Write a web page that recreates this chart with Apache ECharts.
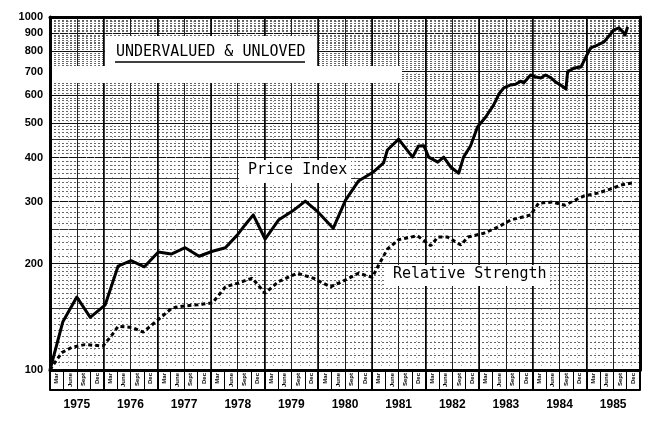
<!DOCTYPE html>
<html><head><meta charset="utf-8">
<script src="https://cdn.jsdelivr.net/npm/echarts@6/dist/echarts.min.js"></script>
<style>html,body{margin:0;padding:0;background:#fff}#c{width:656px;height:423px}</style>
</head><body><div id="c"></div>
<script>
// ---- data ----
const priceYears = [1975.00,1975.24,1975.50,1975.75,1976.03,1976.27,1976.51,1976.76,1977.02,1977.26,1977.52,1977.78,1978.03,1978.27,1978.49,1978.64,1978.79,1979.01,1979.26,1979.52,1979.76,1980.00,1980.28,1980.51,1980.75,1981.03,1981.22,1981.29,1981.50,1981.76,1981.87,1981.97,1982.06,1982.23,1982.34,1982.47,1982.62,1982.71,1982.84,1982.97,1983.12,1983.27,1983.37,1983.46,1983.59,1983.68,1983.78,1983.83,1983.96,1984.06,1984.15,1984.24,1984.34,1984.43,1984.52,1984.62,1984.65,1984.77,1984.90,1984.99,1985.08,1985.21,1985.33,1985.42,1985.51,1985.61,1985.68,1985.72,1985.77];
const priceValues = [100,137,161,141,153,197,204,196,216,213,222,210,217,222,241,258,275,235,266,282,301,280,252,303,343,364,386,420,451,401,431,432,401,388,401,376,361,401,431,488,520,563,605,630,642,645,658,650,685,676,672,685,672,654,642,625,699,717,722,770,817,833,850,883,919,931,907,889,937];
const rsYears = [1975.00,1975.09,1975.22,1975.41,1975.65,1975.99,1976.16,1976.27,1976.53,1976.74,1977.02,1977.28,1977.52,1977.76,1978.03,1978.27,1978.49,1978.77,1979.01,1979.26,1979.61,1979.91,1980.23,1980.51,1980.75,1981.01,1981.11,1981.29,1981.50,1981.85,1982.10,1982.23,1982.41,1982.66,1982.79,1983.09,1983.35,1983.59,1983.96,1984.11,1984.37,1984.60,1984.95,1985.21,1985.46,1985.64,1985.87];
const rsValues = [100,105,112,116,118,117,126,133,132,128,139,150,152,153,155,172,176,182,165,178,188,182,172,180,188,183,196,220,234,240,225,238,238,226,238,244,254,266,275,297,299,293,311,317,326,334,339];
const yearLabels = [1975,1976,1977,1978,1979,1980,1981,1982,1983,1984,1985];
const quarterLabels = ['Mar','June','Sept','Dec'];
const yTickLabels = [100,200,300,400,500,600,700,800,900,1000];
const yHalfLines = [150,250,350,450];

// ---- derived helpers ----
const yMinorLines = [];
for (let v = 105; v < 200; v += 5) if (v !== 150) yMinorLines.push(v);
for (let v = 210; v < 1000; v += 10) if (v % 100 !== 0 && !(v < 500 && v % 50 === 0)) yMinorLines.push(v);
const quarterMids = [];
yearLabels.forEach(y => { for (let q = 0; q < 4; q++) quarterMids.push(y + 0.125 + q * 0.25); });
const yearMids = yearLabels.map(y => y + 0.5);
const XMIN = 1975, XMAX = 1986;

const chart = echarts.init(document.getElementById('c'), null, {renderer: 'canvas'});
const hidden = {axisLine:{show:false}, axisTick:{show:false}, axisLabel:{show:false}, splitLine:{show:false}};
chart.setOption({
  animation: false,
  backgroundColor: '#fff',
  grid: {left: 50, right: 16, top: 17, bottom: 53},
  xAxis: [
    {type:'value', min:XMIN, max:XMAX, interval:0.5, position:'bottom',
     axisLine:{show:true, onZero:false, lineStyle:{color:'#000', width:3}},
     axisTick:{show:false}, axisLabel:{show:false},
     splitLine:{show:true, lineStyle:{color:'#222', width:1}},
     minorTick:{show:false, splitNumber:3},
     minorSplitLine:{show:true, lineStyle:{color:'#aaa', width:1, type:[1,3]}}},
    {type:'value', min:XMIN, max:XMAX, interval:1, position:'bottom',
     axisLine:{show:false}, axisTick:{show:true, length:20, lineStyle:{color:'#000', width:2}},
     axisLabel:{show:false}, splitLine:{show:true, lineStyle:{color:'#000', width:1.5}}},
    {type:'value', min:XMIN, max:XMAX, interval:0.25, position:'bottom',
     axisLine:{show:false}, axisTick:{show:true, length:20, lineStyle:{color:'#000', width:1}},
     axisLabel:{show:true, customValues:quarterMids, rotate:90, fontSize:6, fontWeight:'bold', color:'#000', margin:3,
       formatter: v => quarterLabels[Math.floor((v - Math.floor(v)) * 4 + 1e-6)]},
     splitLine:{show:false}},
    {type:'value', min:XMIN, max:XMAX, position:'bottom', offset:20,
     axisLine:{show:true, onZero:false, lineStyle:{color:'#000', width:2}},
     axisTick:{show:false},
     axisLabel:{show:true, customValues:yearMids, fontSize:12, fontWeight:'bold', color:'#000', margin:9,
       fontFamily:'Liberation Sans', formatter: v => String(Math.floor(v))},
     splitLine:{show:false}},
    {type:'value', min:XMIN, max:XMAX, position:'top',
     axisLine:{show:true, onZero:false, lineStyle:{color:'#000', width:3}},
     axisTick:{show:false}, axisLabel:{show:false}, splitLine:{show:false}}
  ],
  yAxis: [
    {type:'log', logBase:10, min:100, max:1000, position:'left',
     axisLine:{show:true, onZero:false, lineStyle:{color:'#000', width:3}},
     axisTick:{show:false, customValues:yTickLabels},
     axisLabel:{show:true, customValues:yTickLabels, fontSize:11, fontWeight:'bold', color:'#000', margin:7,
       fontFamily:'Liberation Sans', formatter: v => String(Math.round(v))},
     splitLine:{show:true, lineStyle:{color:'#111', width:1}}},
    Object.assign({type:'log', logBase:10, min:100, max:1000, position:'left'}, hidden,
     {axisTick:{show:false, customValues:yHalfLines}, splitLine:{show:true, lineStyle:{color:'#333', width:1}}}),
    Object.assign({type:'log', logBase:10, min:100, max:1000, position:'left'}, hidden,
     {axisTick:{show:false, customValues:yMinorLines}, splitLine:{show:true, lineStyle:{color:'#666', width:1, type:[2,2]}}}),
    Object.assign({type:'log', logBase:10, min:100, max:1000, position:'right'}, hidden,
     {axisLine:{show:true, onZero:false, lineStyle:{color:'#000', width:3}}})
  ],
  series: [
    {name:'Price Index', type:'line', xAxisIndex:0, yAxisIndex:0, symbol:'none', z:10,
     data: priceYears.map((y, i) => [y, priceValues[i]]),
     lineStyle:{color:'#000', width:3, join:'round'}},
    {name:'Relative Strength', type:'line', xAxisIndex:0, yAxisIndex:0, symbol:'none', z:10,
     data: rsYears.map((y, i) => [y, rsValues[i]]),
     lineStyle:{color:'#000', width:3, type:[4,3]}}
  ],
  graphic: [
    {type:'rect', z:5, silent:true, shape:{x:52, y:66, width:350, height:17}, style:{fill:'#fff'}},
    {type:'rect', z:5, silent:true, shape:{x:105, y:36, width:212, height:47}, style:{fill:'#fff'}},
    {type:'text', z:6, left:116, top:45, style:{text:'UNDERVALUED & UNLOVED', font:'15px "DejaVu Sans Mono"', fill:'#000'}},
    {type:'line', z:6, shape:{x1:115, y1:62, x2:305, y2:62}, style:{stroke:'#000', lineWidth:1.5}},
    {type:'rect', z:5, silent:true, shape:{x:239, y:160, width:112, height:23}, style:{fill:'#fff'}},
    {type:'text', z:6, left:248, top:163, style:{text:'Price Index', font:'15px "DejaVu Sans Mono"', fill:'#000'}},
    {type:'rect', z:5, silent:true, shape:{x:386, y:265, width:164, height:21}, style:{fill:'#fff'}},
    {type:'text', z:6, left:393, top:267, style:{text:'Relative Strength', font:'15px "DejaVu Sans Mono"', fill:'#000'}}
  ]
});
</script></body></html>
